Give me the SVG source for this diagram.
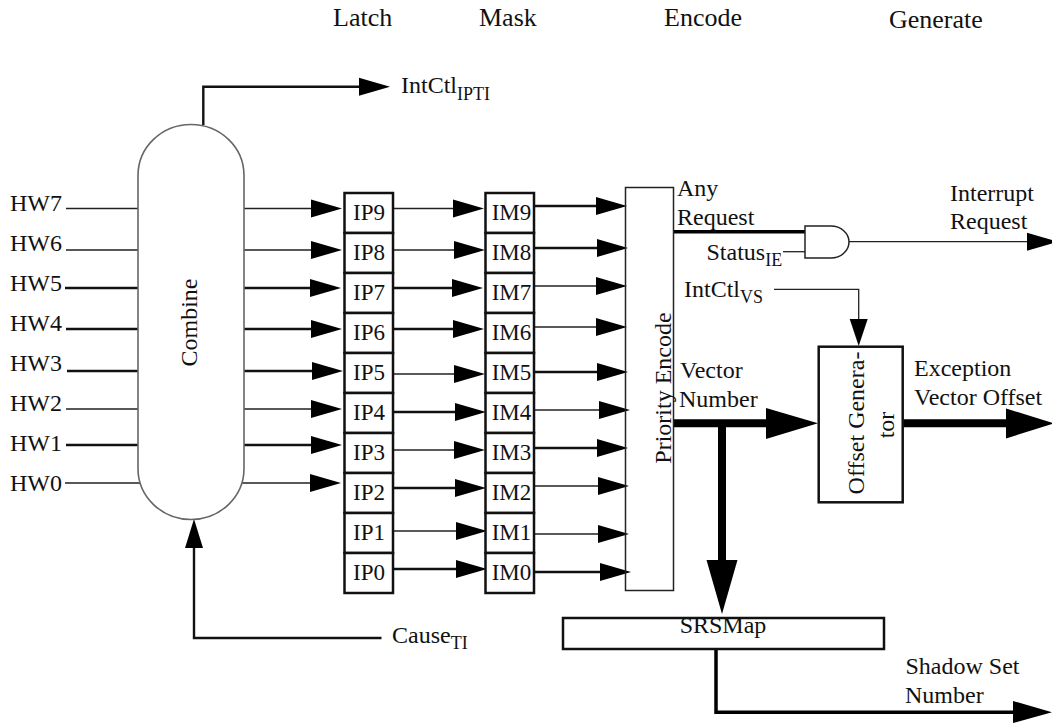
<svg xmlns="http://www.w3.org/2000/svg" width="1052" height="723" viewBox="0 0 1052 723">
<style>
text{font-family:"Liberation Serif","Times New Roman",serif;font-size:24px;fill:#111}
.sub{font-size:18px}
.t{font-size:23px}
.h{font-size:26px}
.box{fill:#fff;stroke:#111;stroke-width:2.5}
.thin{fill:#fff;stroke:#222;stroke-width:1.5}
.pill{fill:#fff;stroke:#666;stroke-width:1.6}
.l1{fill:none;stroke:#222;stroke-width:1.3}
.l2{fill:none;stroke:#111;stroke-width:2.4}
.l3{fill:none;stroke:#000;stroke-width:3.5}
.l4{fill:none;stroke:#000;stroke-width:8}
.c{text-anchor:middle}
</style>
<defs>
<g id="ah"><polygon points="-31,-9 0,0 -31,9" fill="#000"/></g>
</defs>
<rect width="1052" height="723" fill="#fff"/>
<g id="connectors">
<path class="l1" d="M66 208.500H138M244 208.500H312"/><use href="#ah" x="342" y="208.500"/>
<path class="l1" d="M66 250H138M244 250H312"/><use href="#ah" x="342" y="250"/>
<path class="l2" d="M65 288H138M244 288H311"/><use href="#ah" x="341" y="288"/>
<path class="l2" d="M66 329H138M244 329H312"/><use href="#ah" x="342" y="329"/>
<path class="l2" d="M67 371H138M244 371H313"/><use href="#ah" x="343" y="371"/>
<path class="l1" d="M66 409H138M244 409H312"/><use href="#ah" x="342" y="409"/>
<path class="l2" d="M66 445H138M244 445H312"/><use href="#ah" x="342" y="445"/>
<path class="l1" d="M65 483H140M242 483H311"/><use href="#ah" x="341" y="483"/>
<path class="l1" d="M393 208.500H456"/><use href="#ah" x="484" y="208.500"/>
<path class="l1" d="M390 250H457"/><use href="#ah" x="485" y="250"/>
<path class="l2" d="M389 288H455"/><use href="#ah" x="483" y="288"/>
<path class="l2" d="M390 329H456"/><use href="#ah" x="484" y="329"/>
<path class="l1" d="M393 374H457"/><use href="#ah" x="485" y="374"/>
<path class="l2" d="M393 412H458"/><use href="#ah" x="486" y="412"/>
<path class="l1" d="M390 450H457"/><use href="#ah" x="485" y="450"/>
<path class="l2" d="M393 488H458"/><use href="#ah" x="486" y="488"/>
<path class="l1" d="M393 531H458"/><use href="#ah" x="487" y="531"/>
<path class="l2" d="M393 569H460"/><use href="#ah" x="487" y="569"/>
<path class="l2" d="M534 206H598"/><use href="#ah" x="627" y="206"/>
<path class="l2" d="M534 248H598"/><use href="#ah" x="628" y="248"/>
<path class="l1" d="M534 286H597"/><use href="#ah" x="627" y="286"/>
<path class="l1" d="M532 327H598"/><use href="#ah" x="627" y="327"/>
<path class="l2" d="M534 372H598"/><use href="#ah" x="628" y="372"/>
<path class="l1" d="M534 410H600"/><use href="#ah" x="630" y="410"/>
<path class="l2" d="M534 448H598"/><use href="#ah" x="628" y="448"/>
<path class="l1" d="M534 486H600"/><use href="#ah" x="629" y="486"/>
<path class="l1" d="M534 534H600"/><use href="#ah" x="629" y="534"/>
<path class="l2" d="M534 572H600"/><use href="#ah" x="631" y="572"/>
<path class="l2" d="M203.300 125V86.700H360"/><use href="#ah" x="390" y="86.700"/>
<path class="l2" d="M194 546V638H381.500"/><polygon points="194,519 185,548 203,548" fill="#000"/>
<path class="l3" d="M673 231.700H806"/>
<path class="l1" d="M783 251.700H808"/>
<path class="l1" d="M849 241.700H1030"/><use href="#ah" x="1058" y="241.700"/>
<path class="l1" d="M774 289.300H858.700V320"/><polygon points="858.700,346 849.700,319 867.700,319" fill="#000"/>
<path class="l4" d="M673 423.300H770"/><polygon points="818,423.300 766,408 766,439" fill="#000"/>
<path class="l4" d="M902 423.300H1010"/><polygon points="1054,423.300 1006,408.500 1006,438.500" fill="#000"/>
<path class="l4" d="M722 423V565"/><polygon points="722,614 706.500,560 737.500,560" fill="#000"/>
<path class="l3" d="M716 649V712.300H1020"/><polygon points="1052,712.300 1013,701 1013,723" fill="#000"/>
</g>
<g id="combine"><rect class="pill" x="138" y="124.500" width="106" height="395" rx="53" ry="51"/><text class="c" transform="translate(197.300 322.500) rotate(-90)">Combine</text></g>
<g id="ip">
<rect class="box" x="344.500" y="193" width="48.500" height="40"/><text class="c t" x="369" y="220">IP9</text>
<rect class="box" x="344.500" y="233" width="48.500" height="40"/><text class="c t" x="369" y="260">IP8</text>
<rect class="box" x="344.500" y="273" width="48.500" height="40"/><text class="c t" x="369" y="300">IP7</text>
<rect class="box" x="344.500" y="313" width="48.500" height="40"/><text class="c t" x="369" y="340">IP6</text>
<rect class="box" x="344.500" y="353" width="48.500" height="40"/><text class="c t" x="369" y="380">IP5</text>
<rect class="box" x="344.500" y="393" width="48.500" height="40"/><text class="c t" x="369" y="420">IP4</text>
<rect class="box" x="344.500" y="433" width="48.500" height="40"/><text class="c t" x="369" y="460">IP3</text>
<rect class="box" x="344.500" y="473" width="48.500" height="40"/><text class="c t" x="369" y="500">IP2</text>
<rect class="box" x="344.500" y="513" width="48.500" height="40"/><text class="c t" x="369" y="540">IP1</text>
<rect class="box" x="344.500" y="553" width="48.500" height="40"/><text class="c t" x="369" y="580">IP0</text>
</g>
<g id="im">
<rect class="box" x="485.500" y="193" width="48.500" height="40"/><text class="c t" x="511.500" y="220">IM9</text>
<rect class="box" x="485.500" y="233" width="48.500" height="40"/><text class="c t" x="511.500" y="260">IM8</text>
<rect class="box" x="485.500" y="273" width="48.500" height="40"/><text class="c t" x="511.500" y="300">IM7</text>
<rect class="box" x="485.500" y="313" width="48.500" height="40"/><text class="c t" x="511.500" y="340">IM6</text>
<rect class="box" x="485.500" y="353" width="48.500" height="40"/><text class="c t" x="511.500" y="380">IM5</text>
<rect class="box" x="485.500" y="393" width="48.500" height="40"/><text class="c t" x="511.500" y="420">IM4</text>
<rect class="box" x="485.500" y="433" width="48.500" height="40"/><text class="c t" x="511.500" y="460">IM3</text>
<rect class="box" x="485.500" y="473" width="48.500" height="40"/><text class="c t" x="511.500" y="500">IM2</text>
<rect class="box" x="485.500" y="513" width="48.500" height="40"/><text class="c t" x="511.500" y="540">IM1</text>
<rect class="box" x="485.500" y="553" width="48.500" height="40"/><text class="c t" x="511.500" y="580">IM0</text>
</g>
<g id="priority-encode"><rect class="thin" x="625.500" y="187.500" width="48" height="403" fill-opacity="0"/><text class="c" transform="translate(671 388) rotate(-90)">Priority Encode</text></g>
<g id="and-gate"><path class="thin" d="M805 226H831A18 16 0 0 1 831 258H805Z"/></g>
<g id="offset"><rect class="box" x="818.700" y="346.700" width="84" height="155.600"/><text class="c" transform="translate(864 423) rotate(-90)">Offset Genera-</text><text class="c" transform="translate(894 425) rotate(-90)">tor</text></g>
<g id="srsmap"><rect class="box" x="563" y="618" width="321" height="31"/><text class="c" x="723" y="632.700">SRSMap</text></g>
<g id="labels">
<text x="10" y="211">HW7</text><text x="10" y="251">HW6</text><text x="10" y="291">HW5</text><text x="10" y="331">HW4</text><text x="10" y="371">HW3</text><text x="10" y="411">HW2</text><text x="10" y="451">HW1</text><text x="10" y="491">HW0</text>
<text class="h" x="333" y="26">Latch</text><text class="h" x="479" y="26">Mask</text><text class="h" x="664" y="26">Encode</text><text class="h" x="889" y="27.500">Generate</text>
<text x="401" y="93">IntCtl<tspan class="sub" dy="6.500">IPTI</tspan></text>
<text x="392" y="643">Cause<tspan class="sub" dy="6">TI</tspan></text>
<text x="677" y="196">Any</text><text x="677" y="225">Request</text>
<text x="950" y="200.500">Interrupt</text><text x="950" y="229.300">Request</text>
<text x="706.500" y="260">Status<tspan class="sub" dy="6">IE</tspan></text>
<text x="684" y="297">IntCtl<tspan class="sub" dy="6">VS</tspan></text>
<text x="680" y="378">Vector</text><text x="679" y="407">Number</text>
<text x="914" y="376">Exception</text><text x="914" y="405">Vector Offset</text>
<text x="905.500" y="674">Shadow Set</text><text x="905" y="703">Number</text>
</g>
</svg>
